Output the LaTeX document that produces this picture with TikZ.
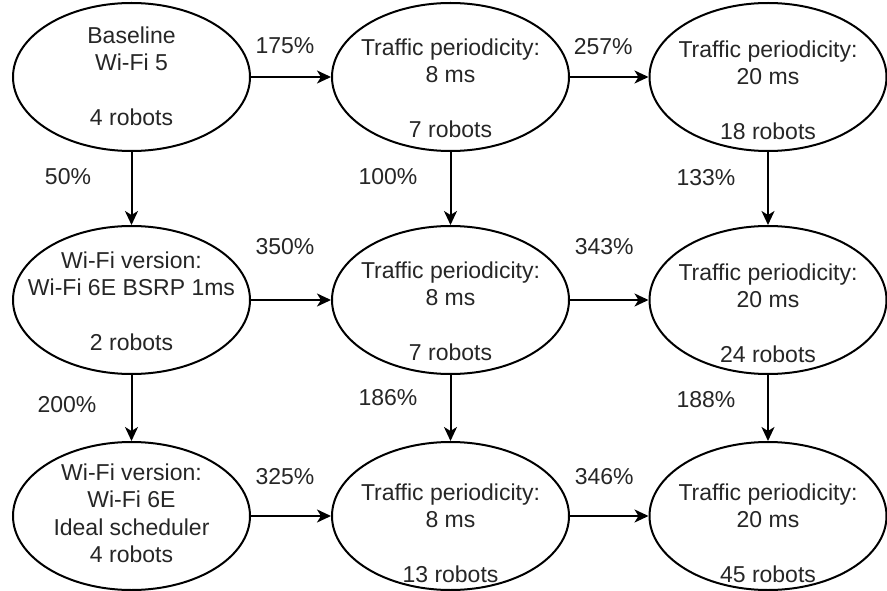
\documentclass[tikz,border=0pt]{standalone}
\usepackage{fontspec}
\setmainfont{Liberation Sans}
\usetikzlibrary{arrows.meta,shapes.geometric}
\begin{document}
\begin{tikzpicture}[x=1pt,y=-1pt,
  oval/.style={draw=black, line width=2pt, ellipse, minimum width=237pt,
    minimum height=148pt, inner sep=0pt},
  txt/.style={anchor=north, align=center, inner sep=0pt, text=black!85,
    font=\fontsize{23}{27.5}\selectfont},
  pct/.style={inner sep=0pt, text=black!85, font=\fontsize{23}{27.5}\selectfont},
  arr/.style={line width=2pt, -{Stealth[length=14pt,width=13pt,inset=4pt]}}]

\fill[white] (0,0) rectangle (887,591);
\useasboundingbox (0,0) rectangle (887,591);

% scenario ellipses
\node[oval] (a1) at (131.5,77) {};
\node[oval] (b1) at (450.5,77) {};
\node[oval] (c1) at (768,77) {};
\node[oval] (a2) at (131.5,300) {};
\node[oval] (b2) at (450.5,300) {};
\node[oval] (c2) at (768,300) {};
\node[oval] (a3) at (131.5,516) {};
\node[oval] (b3) at (450.5,516) {};
\node[oval] (c3) at (768,516) {};

% ellipse texts
\node[txt] (ta1) at (131.5,23.75) {\strut Baseline\\\strut Wi-Fi 5\\\strut\\\strut 4 robots};
\node[txt] (tb1) at (450.5,35.75) {\strut Traffic periodicity:\\\strut 8 ms\\\strut\\\strut 7 robots};
\node[txt] (tc1) at (768,37.75) {\strut Traffic periodicity:\\\strut 20 ms\\\strut\\\strut 18 robots};
\node[txt] (ta2) at (131.5,248.75) {\strut Wi-Fi version:\\\strut Wi-Fi 6E BSRP 1ms\\\strut\\\strut 2 robots};
\node[txt] (tb2) at (450.5,258.75) {\strut Traffic periodicity:\\\strut 8 ms\\\strut\\\strut 7 robots};
\node[txt] (tc2) at (768,260.75) {\strut Traffic periodicity:\\\strut 20 ms\\\strut\\\strut 24 robots};
\node[txt] (ta3) at (131.5,460.75) {\strut Wi-Fi version:\\\strut Wi-Fi 6E\\\strut Ideal scheduler\\\strut 4 robots};
\node[txt] (tb3) at (450.5,480.75) {\strut Traffic periodicity:\\\strut 8 ms\\\strut\\\strut 13 robots};
\node[txt] (tc3) at (768,480.75) {\strut Traffic periodicity:\\\strut 20 ms\\\strut\\\strut 45 robots};

% horizontal transitions
\draw[arr] (a1) -- node[pct, shift={(-6,-31)}] (l1) {175\%} (b1);
\draw[arr] (b1) -- node[pct, shift={(-6,-30)}] (l2) {257\%} (c1);
\draw[arr] (a2) -- node[pct, shift={(-6,-53)}] (l3) {350\%} (b2);
\draw[arr] (b2) -- node[pct, shift={(-5,-53)}] (l4) {343\%} (c2);
\draw[arr] (a3) -- node[pct, shift={(-6,-39)}] (l5) {325\%} (b3);
\draw[arr] (b3) -- node[pct, shift={(-5,-39)}] (l6) {346\%} (c3);

% vertical transitions
\draw[arr] (a1) -- node[pct, shift={(-63.5,-11.5)}] (l7) {50\%} (a2);
\draw[arr] (b1) -- node[pct, shift={(-62.5,-11.5)}] (l8) {100\%} (b2);
\draw[arr] (c1) -- node[pct, shift={(-62,-10.5)}] (l9) {133\%} (c2);
\draw[arr] (a2) -- node[pct, shift={(-64.5,-3)}] (l10) {200\%} (a3);
\draw[arr] (b2) -- node[pct, shift={(-62.5,-10)}] (l11) {186\%} (b3);
\draw[arr] (c2) -- node[pct, shift={(-62,-8)}] (l12) {188\%} (c3);
\end{tikzpicture}
\end{document}
